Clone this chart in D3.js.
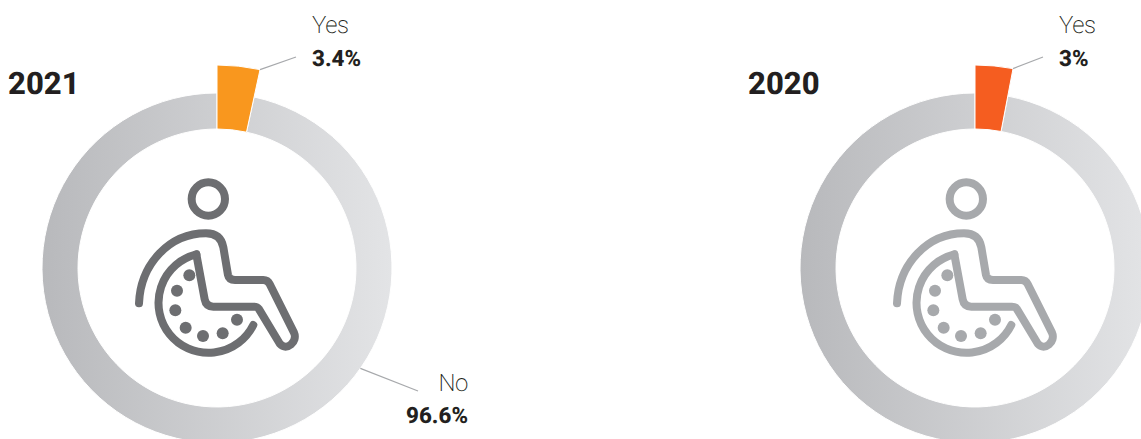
<!DOCTYPE html>
<html>
<head>
<meta charset="utf-8">
<script src="https://cdn.jsdelivr.net/npm/d3@7"></script>
<style>
html,body{margin:0;padding:0;background:#fff;overflow:hidden}
svg{display:block;opacity:.999}
text{font-family:Roboto,sans-serif;fill:#231f20;text-rendering:geometricPrecision}
</style>
</head>
<body>
<svg id="chart" width="1141" height="439"></svg>
<script>
const years = ["2021", "2020"];
const categories = ["Yes", "No"];
const yesValues = [3.4, 3];
const noValues = [96.6, 97];
const valueLabels = [["3.4%", "96.6%"], ["3%", null]];
const accentColors = ["#f9971e", "#f55d20"];
const iconColors = ["#6d6e71", "#a7a9ac"];
const centersX = [217, 975];
const centerY = 268;
const yearLabelX = [8, 748];

const svg = d3.select("#chart");
const defs = svg.append("defs");
const ringInner = 139, ringOuter = 175, accentOuter = 203;

const pie = d3.pie().sort(null).value(d => d);
const arc = d3.arc();

// Wheelchair pictogram, drawn in a 3x grid and scaled down.
function drawIcon(g, color) {
  const icon = g.append("g")
    .attr("transform", "translate(-97,-108) scale(0.3333)")
    .attr("fill", "none").attr("stroke", color)
    .attr("stroke-width", 24).attr("stroke-linecap", "round").attr("stroke-linejoin", "round");
  icon.append("circle").attr("cx", 265).attr("cy", 117).attr("r", 50);
  icon.append("path").attr("d",
    "M57 430 C62 310 150 220 258 220 C288 220 305 235 310 262 L324 345 Q327 360 345 360 L430 360 Q443 360 449 372 " +
    "L522 518 C534 545 500 575 480 552 L416 446 Q412 440 402 440 L280 440 Q258 440 254 418 L229 283");
  icon.append("path").attr("d", "M229 283 A150 150 0 1 0 400 495");
  const dots = [[208,346],[171,392],[166,451],[197,503],[249,528],[308,520],[351,479]];
  icon.selectAll("circle.dot").data(dots).join("circle").attr("class", "dot")
    .attr("cx", d => d[0]).attr("cy", d => d[1]).attr("r", 18)
    .attr("fill", color).attr("stroke", "none");
}

years.forEach((year, i) => {
  const g = svg.append("g").attr("transform", `translate(${centersX[i]},${centerY})`);
  const gradId = `ring-${year}`;
  const grad = defs.append("linearGradient").attr("id", gradId)
    .attr("gradientUnits", "userSpaceOnUse")
    .attr("x1", -ringOuter).attr("x2", ringOuter).attr("y1", 0).attr("y2", 0);
  grad.append("stop").attr("offset", 0).attr("stop-color", "#b8b9bc");
  grad.append("stop").attr("offset", 1).attr("stop-color", "#e3e4e6");

  const slices = pie([yesValues[i], noValues[i]]);
  g.selectAll("path.slice").data(slices.slice().reverse()).join("path")
    .attr("class", "slice")
    .attr("d", d => arc({
      startAngle: d.startAngle, endAngle: d.endAngle,
      innerRadius: ringInner,
      outerRadius: d.index === 0 ? accentOuter : ringOuter
    }))
    .attr("fill", d => d.index === 0 ? accentColors[i] : `url(#${gradId})`)
    .attr("stroke", "#fff").attr("stroke-width", 1);

  drawIcon(g, iconColors[i]);

  svg.append("text").attr("x", yearLabelX[i]).attr("y", 94)
    .attr("font-size", 31).attr("font-weight", 800).text(year);

  // Leader and labels for the highlighted slice
  const p = d3.pointRadial(slices[0].endAngle, accentOuter);
  const labelX = centersX[i] + (i === 0 ? 95 : 84);
  g.append("line")
    .attr("x1", p[0]).attr("y1", p[1])
    .attr("x2", labelX - centersX[i] - 16).attr("y2", 57 - centerY)
    .attr("stroke", "#a7a9ac").attr("stroke-width", 1.2);
  svg.append("text").attr("x", labelX).attr("y", 33)
    .attr("font-size", 24).attr("font-weight", 200).attr("letter-spacing", -0.4).text(categories[0]);
  svg.append("text").attr("x", labelX).attr("y", 66)
    .attr("font-size", 22.4).attr("font-weight", 800).text(valueLabels[i][0]);

  // Only the first ring has its larger share labelled in view
  if (valueLabels[i][1]) {
    const q = d3.pointRadial(125 * Math.PI / 180, ringOuter);
    g.append("line")
      .attr("x1", q[0]).attr("y1", q[1])
      .attr("x2", 201).attr("y2", 123)
      .attr("stroke", "#a7a9ac").attr("stroke-width", 1.2);
    svg.append("text").attr("x", 468).attr("y", 391).attr("text-anchor", "end")
      .attr("font-size", 24).attr("font-weight", 200).attr("letter-spacing", -0.4).text(categories[1]);
    svg.append("text").attr("x", 468).attr("y", 423).attr("text-anchor", "end")
      .attr("font-size", 22.4).attr("font-weight", 800).text(valueLabels[i][1]);
  }
});
</script>
</body>
</html>
